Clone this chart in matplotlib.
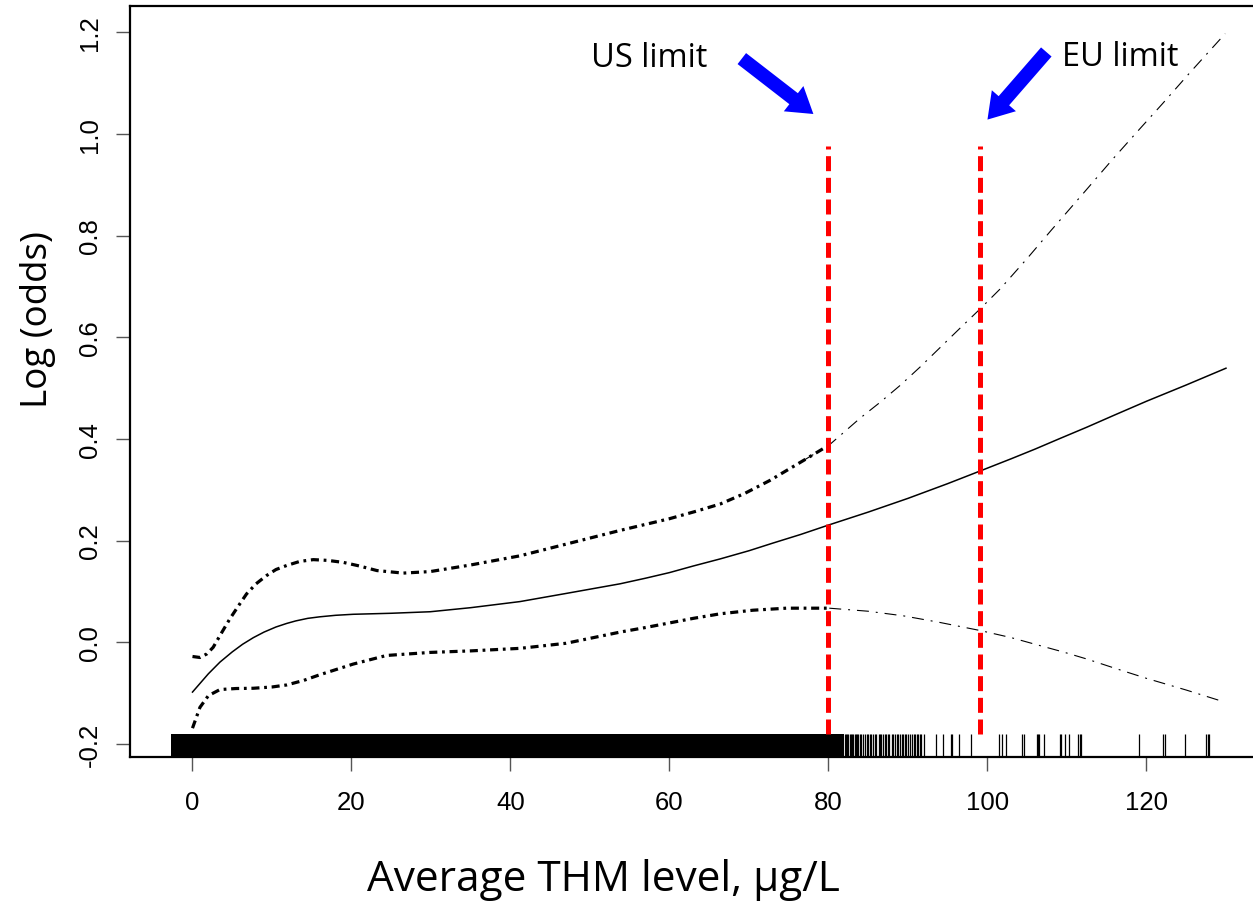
import matplotlib
matplotlib.use("Agg")
import matplotlib.pyplot as plt
from matplotlib.transforms import blended_transform_factory

# Spline fit of log odds against average THM level, with pointwise bounds
fit_x = [0, 1, 2, 3.46, 5, 6.3, 7.65, 9, 10.5, 11.85, 13, 14.5, 16, 18, 20.2,
         25, 29.9, 35, 41.2, 47, 53.8, 57, 60, 63, 66.4, 70, 73, 76.5, 80.1, 85,
         90, 95, 99.1, 103, 106, 109, 112.5, 116, 120, 125, 130]
fit_y = [-0.098, -0.080, -0.062, -0.039, -0.019, -0.004, 0.009, 0.020, 0.030,
         0.037, 0.042, 0.047, 0.050, 0.053, 0.055, 0.057, 0.060, 0.068, 0.080,
         0.096, 0.115, 0.126, 0.137, 0.150, 0.164, 0.180, 0.195, 0.212, 0.231,
         0.256, 0.283, 0.312, 0.337, 0.361, 0.380, 0.400, 0.423, 0.447, 0.474,
         0.506, 0.539]

upper_x = [0, 0.94, 1.8, 2.6, 3.6, 4.7, 5.8, 6.8, 8.0, 9.3, 10.5, 11.85, 13.5,
           15.2, 17, 19, 21, 23.2, 26.5, 29.9, 35, 41.2, 47, 53.8, 60, 63.2, 66.4,
           69.5, 72.6, 76.8, 80.1, 84, 86.5, 89, 91.5, 94, 96.5, 99.1, 101.6, 105,
           108, 112, 115.8, 119, 122, 125.5, 129.9]
upper_y = [-0.028, -0.030, -0.023, -0.010, 0.017, 0.046, 0.072, 0.095, 0.115,
           0.131, 0.143, 0.151, 0.159, 0.1625, 0.161, 0.157, 0.150, 0.141, 0.136,
           0.139, 0.152, 0.170, 0.193, 0.220, 0.243, 0.257, 0.272, 0.293, 0.318,
           0.357, 0.388, 0.441, 0.472, 0.505, 0.541, 0.579, 0.617, 0.656, 0.695,
           0.755, 0.810, 0.882, 0.951, 1.007, 1.059, 1.121, 1.197]

lower_x = [0, 0.94, 2.0, 3.46, 5.5, 7.65, 10, 11.85, 14, 16, 20.2, 24.4, 29.9,
           35, 41.2, 47, 53.8, 57, 60, 63, 66.4, 70.5, 74.7, 80.1, 85, 89.4, 94,
           99.1, 103, 106, 109.5, 112.5, 116, 120, 125, 129.7]
lower_y = [-0.169, -0.128, -0.105, -0.093, -0.091, -0.0905, -0.088, -0.084,
           -0.075, -0.064, -0.043, -0.026, -0.020, -0.017, -0.012, -0.002, 0.020,
           0.029, 0.038, 0.047, 0.056, 0.063, 0.067, 0.067, 0.061, 0.052, 0.039,
           0.023, 0.009, -0.004, -0.019, -0.033, -0.051, -0.071, -0.094, -0.117]

# Observed exposures: a solid run of observations, then individual values
rug_dense_range = (-2.7, 81.9)
rug_values = [82.05, 82.2, 82.35, 82.5, 82.7, 82.85, 83.0, 83.1, 83.3, 83.45,
              83.6, 83.75, 83.96, 84.15, 84.3, 84.6, 84.8, 84.95, 85.2, 85.4,
              85.55, 85.85, 86.0, 86.3, 86.5, 86.65, 86.9, 87.1, 87.25, 87.5,
              87.65, 87.95, 88.1, 88.4, 88.6, 88.75, 89.0, 89.2, 89.35, 89.6,
              89.8, 90.0, 90.2, 90.5, 90.7, 90.85, 91.1, 91.3, 91.5, 91.7, 92.05,
              93.5, 94.4, 95.4, 95.6, 96.4, 97.9, 101.5, 101.8, 102.3, 104.3,
              104.6, 106.2, 106.4, 106.5, 107.1, 109.1, 109.3, 109.8, 110.3,
              111.4, 111.6, 111.8, 119.1, 122.1, 122.3, 124.9, 127.5, 127.7,
              127.9]

# Regulatory limits
limit_x = [80, 99]
limit_top = 0.977
limit_bottom = -0.180
limit_labels = ["US limit", "EU limit"]
label_pos = [(57.5, 1.150), (116.7, 1.152)]
arrow_tail = [(69.1, 1.148), (107.4, 1.161)]
arrow_tip = [(78.1, 1.039), (100.0, 1.028)]

x_ticks = [0, 20, 40, 60, 80, 100, 120]
y_ticks = [-0.2, 0.0, 0.2, 0.4, 0.6, 0.8, 1.0, 1.2]
y_ticklabels = ["-0.2", "0.0", "0.2", "0.4", "0.6", "0.8", "1.0", "1.2"]

plt.rcParams["lines.scale_dashes"] = False
W, H = 1253, 904
fig = plt.figure(figsize=(W / 100, H / 100), dpi=100)
ax = fig.add_axes([130 / W, 146 / H, 1 - 130 / W, (758 - 6.5) / H])
ax.set_xlim(-7.86, 133.4)
ax.set_ylim(-0.2257, 1.2524)

for side in ("left", "bottom", "top"):
    ax.spines[side].set_linewidth(1.6)
ax.spines["right"].set_visible(False)

# Fitted curve
ax.plot(fit_x, fit_y, color="black", lw=1.1, solid_joinstyle="round")

# Confidence bounds: heavier dot-dash where data are dense, lighter beyond
split = 78
thick = dict(color="black", lw=2.3, dashes=(5.8, 3.4, 2.0, 3.4))
thin = dict(color="black", lw=0.8, dashes=(8.6, 5.0, 1.4, 5.0))
for xs, ys in ((upper_x, upper_y), (lower_x, lower_y)):
    left = [(a, b) for a, b in zip(xs, ys) if a <= split + 2.5]
    right = [(a, b) for a, b in zip(xs, ys) if a >= split - 2.5]
    ax.plot([p[0] for p in left], [p[1] for p in left], **thick)
    ax.plot([p[0] for p in right], [p[1] for p in right], **thin)

# Rug along the x axis
trans = blended_transform_factory(ax.transData, ax.transAxes)
ax.fill_between(list(rug_dense_range), [0, 0], [0.03, 0.03],
                transform=trans, color="black", lw=0)
ax.vlines(rug_values, 0, 0.03, transform=trans, colors="black", lw=0.9)

# Limit lines
ax.vlines(limit_x, limit_bottom, limit_top, colors="#ff0000", lw=3.6,
          linestyles=[(0, (10.8, 4.8))])

# Labels and arrows for the limits
for text, (tx, ty), tail, tip in zip(limit_labels, label_pos, arrow_tail, arrow_tip):
    ax.text(tx, ty, text, ha="center", va="center", fontsize=23.5,
            family="Open Sans", color="black")
    ax.annotate("", xy=tip, xytext=tail,
                arrowprops=dict(arrowstyle="simple,head_length=18,head_width=23,tail_width=10",
                                mutation_scale=1, color="#0000ff", lw=0,
                                shrinkA=0, shrinkB=0))

ax.set_xticks(x_ticks)
ax.set_xticklabels([str(t) for t in x_ticks])
ax.set_yticks(y_ticks)
ax.set_yticklabels(y_ticklabels, rotation=90, va="center")
ax.tick_params(axis="both", direction="out", length=10, width=1.0,
               color="#555555", labelsize=18.5, labelcolor="black")
ax.tick_params(axis="x", pad=14)
ax.tick_params(axis="y", pad=10)
for lab in ax.get_xticklabels() + ax.get_yticklabels():
    lab.set_family("Liberation Sans")

fig.text(603 / W, 1 - 880 / H, "Average THM level, \u03bcg/L", ha="center",
         va="center", fontsize=30.5, family="Open Sans")
fig.text(38 / W, 1 - 320 / H, "Log (odds)", ha="center", va="center",
         rotation=90, fontsize=26.5, family="Open Sans")

fig.savefig("out.png", dpi=100, facecolor="white")
